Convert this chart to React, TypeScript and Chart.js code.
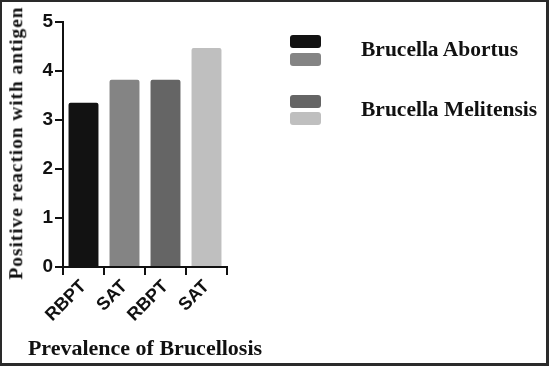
import React, { useEffect, useRef } from "react";
import { Chart, registerables } from "chart.js";

Chart.register(...registerables);

const categories = ["RBPT", "SAT", "RBPT", "SAT"];
const values = [3.35, 3.82, 3.82, 4.47];
const barColors = ["#121212", "#848484", "#656565", "#bfbfbf"];
const legendLabels = ["Brucella Abortus", "Brucella Melitensis"];
const yMin = 0;
const yMax = 5;
const yStep = 1;
const yTitle = "Positive reaction with antigen";
const xTitle = "Prevalence of Brucellosis";

const serif = "Liberation Serif, Times New Roman, serif";

export default function App() {
  const ref = useRef<HTMLCanvasElement | null>(null);

  useEffect(() => {
    if (!ref.current) return;
    const chart = new Chart(ref.current, {
      type: "bar",
      data: {
        labels: categories,
        datasets: [
          {
            data: values,
            backgroundColor: barColors,
            borderWidth: 0,
            borderRadius: 2,
            borderSkipped: "bottom",
            barPercentage: 0.73,
            categoryPercentage: 1,
          },
        ],
      },
      options: {
        responsive: false,
        animation: false,
        devicePixelRatio: 1,
        layout: { padding: { left: 0, top: 22, right: 322, bottom: 0 } },
        plugins: { legend: { display: false }, tooltip: { enabled: false } },
        scales: {
          x: {
            afterFit: (s: any) => {
              s.height = 99;
            },
            grid: {
              drawOnChartArea: false,
              drawTicks: true,
              tickLength: 8,
              color: "#111",
              lineWidth: 2,
            },
            border: { display: true, color: "#111", width: 2 },
            ticks: {
              color: "#111",
              minRotation: 45,
              maxRotation: 45,
              padding: 1,
              font: { family: "Liberation Sans, Arial", size: 18, weight: "bold" },
            },
          },
          y: {
            min: yMin,
            max: yMax,
            afterFit: (s: any) => {
              s.width = 63;
            },
            grid: {
              drawOnChartArea: false,
              drawTicks: true,
              tickLength: 8,
              color: "#111",
              lineWidth: 2,
            },
            border: { display: true, color: "#111", width: 2 },
            ticks: {
              stepSize: yStep,
              color: "#111",
              padding: 2,
              font: { family: "Liberation Sans, Arial", size: 19, weight: "bold" },
            },
          },
        },
      },
    });
    return () => chart.destroy();
  }, []);

  const sw = (top: number, color: string) => (
    <div
      style={{
        position: "absolute",
        left: 290,
        top,
        width: 31,
        height: 12.5,
        background: color,
        borderRadius: 3,
      }}
    />
  );
  const txt = (top: number, label: string) => (
    <div
      style={{
        position: "absolute",
        left: 361,
        top,
        fontFamily: serif,
        fontWeight: "bold",
        fontSize: 21.5,
        lineHeight: 1,
        color: "#111",
        whiteSpace: "nowrap",
      }}
    >
      {label}
    </div>
  );

  return (
    <div
      style={{
        position: "absolute",
        left: 0,
        top: 0,
        width: 549,
        height: 366,
        background: "#fff",
        overflow: "hidden",
      }}
    >
      <canvas ref={ref} width={549} height={366} style={{ display: "block" }} />
      {sw(35, barColors[0])}
      {sw(53, barColors[1])}
      {sw(95, barColors[2])}
      {sw(112, barColors[3])}
      {txt(39, legendLabels[0])}
      {txt(99, legendLabels[1])}
      <div
        style={{
          position: "absolute",
          left: 16,
          top: 143,
          transform: "translate(-50%, -50%) rotate(-90deg)",
          fontFamily: serif,
          fontWeight: "bold",
          fontSize: 19.5,
          letterSpacing: 0.9,
          lineHeight: 1,
          color: "#111",
          whiteSpace: "nowrap",
        }}
      >
        {yTitle}
      </div>
      <div
        style={{
          position: "absolute",
          left: 145,
          top: 337,
          transform: "translateX(-50%)",
          fontFamily: serif,
          fontWeight: "bold",
          fontSize: 22,
          lineHeight: 1,
          color: "#111",
          whiteSpace: "nowrap",
        }}
      >
        {xTitle}
      </div>
      <div
        style={{
          position: "absolute",
          left: 0,
          top: 0,
          width: 549,
          height: 366,
          boxSizing: "border-box",
          borderTop: "2px solid #2a2a2a",
          borderLeft: "2px solid #2a2a2a",
          borderRight: "3px solid #2a2a2a",
          borderBottom: "3px solid #2a2a2a",
          pointerEvents: "none",
        }}
      />
    </div>
  );
}
